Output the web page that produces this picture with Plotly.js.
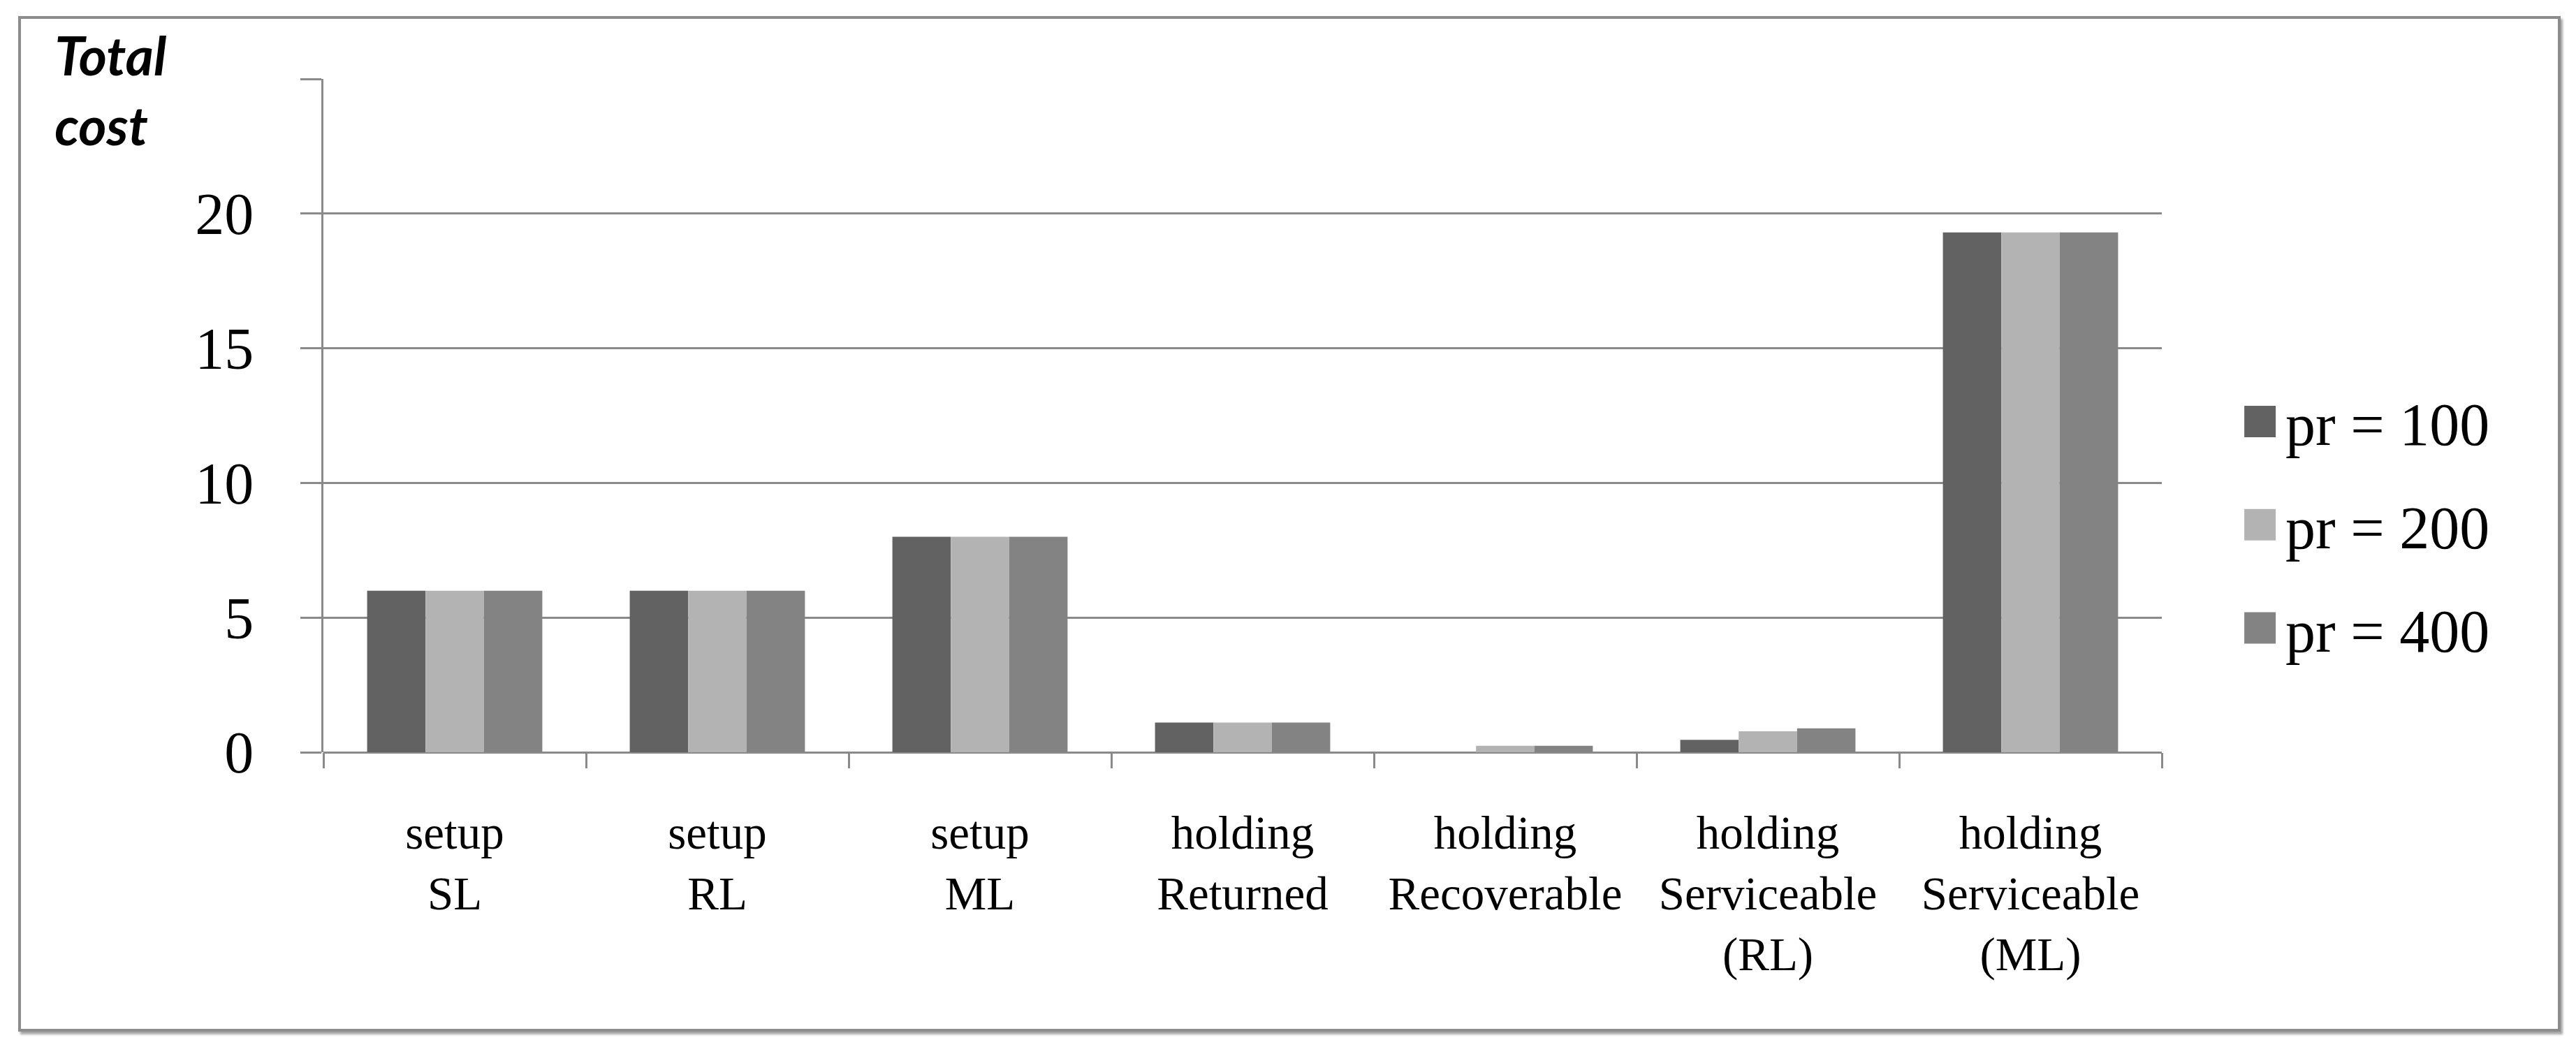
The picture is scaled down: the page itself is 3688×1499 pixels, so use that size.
<!DOCTYPE html>
<html>
<head>
<meta charset="utf-8">
<script src="https://cdn.plot.ly/plotly-3.0.1.min.js"></script>
<style>
  html, body { margin: 0; padding: 0; background: #ffffff; }
  #chart { width: 3688px; height: 1499px; position: absolute; left: 0; top: 0; }
  #frame { position: absolute; left: 26px; top: 23px; width: 3632px; height: 1446px;
           border: 4px solid #8c8c8c; box-shadow: 3px 4px 3px rgba(0,0,0,0.35); pointer-events: none; }
</style>
</head>
<body>
<div id="chart"></div>
<div id="frame"></div>
<script>
// ---- data ----
var categories = [
  "setup<br>SL",
  "setup<br>RL",
  "setup<br>ML",
  "holding<br>Returned",
  "holding<br>Recoverable",
  "holding<br>Serviceable<br>(RL)",
  "holding<br>Serviceable<br>(ML)"
];
var seriesNames = ["pr = 100", "pr = 200", "pr = 400"];
var pr100 = [6, 6, 8, 1.1, 0, 0.46, 19.3];
var pr200 = [6, 6, 8, 1.1, 0.24, 0.78, 19.3];
var pr400 = [6, 6, 8, 1.1, 0.24, 0.89, 19.3];
var yTickVals = [0, 5, 10, 15, 20, 25];
var yTickText = ["0", "5", "10", "15", "20", ""];
var seriesColors = ["#626262", "#b3b3b3", "#838383"];

var seriesValues = [pr100, pr200, pr400];
var traces = seriesValues.map(function (vals, i) {
  return {
    type: "bar",
    name: seriesNames[i],
    x: categories,
    y: vals,
    legendgroup: "g" + i,
    marker: { color: seriesColors[i], line: { width: 0 } },
    hoverinfo: "x+y+name"
  };
});

var gridColor = "#8a8a8a";
var layout = {
  width: 3688,
  height: 1499,
  paper_bgcolor: "#ffffff",
  plot_bgcolor: "#ffffff",
  margin: { l: 463, r: 593, t: 113, b: 422, pad: 0 },
  barmode: "group",
  bargap: 0.333,
  bargroupgap: 0,
  title: {
    text: "<b><i>Total<br>cost</i></b>",
    xref: "container", yref: "container",
    x: 0.0212, xanchor: "left",
    y: 0.928, yanchor: "middle",
    font: { family: "Lato, 'Open Sans', sans-serif", size: 77, color: "#000000" }
  },
  xaxis: {
    type: "category",
    tickson: "boundaries",
    ticks: "outside",
    ticklen: 22,
    tickwidth: 3,
    tickcolor: gridColor,
    showline: false,
    showgrid: false,
    zeroline: false,
    tickfont: { family: "'Liberation Serif', 'Times New Roman', serif", size: 67, color: "#000000" },
    ticklabelstandoff: 70,
    tickangle: 0
  },
  yaxis: {
    range: [0, 25],
    tickvals: yTickVals,
    ticktext: yTickText,
    ticks: "outside",
    ticklen: 30,
    tickwidth: 3,
    tickcolor: gridColor,
    showgrid: true,
    gridcolor: gridColor,
    gridwidth: 3,
    showline: true,
    linecolor: gridColor,
    linewidth: 3,
    zeroline: true,
    zerolinecolor: gridColor,
    zerolinewidth: 3,
    tickfont: { family: "'Liberation Serif', 'Times New Roman', serif", size: 84, color: "#000000" },
    ticklabelstandoff: 50
  },
  showlegend: true,
  legend: {
    x: 1.0407, xanchor: "left",
    y: 0.556, yanchor: "top",
    bgcolor: "rgba(0,0,0,0)",
    borderwidth: 0,
    itemwidth: 60,
    tracegroupgap: 33,
    font: { family: "'Liberation Serif', 'Times New Roman', serif", size: 86, color: "#000000" }
  }
};

function fixLegend() {
  var items = document.querySelectorAll("#chart .legend .traces");
  items.forEach(function (tr) {
    var txt = tr.querySelector("text.legendtext");
    var tx = txt ? (parseFloat(txt.getAttribute("x")) || 70) : 70;
    tr.querySelectorAll(".legendpoints path").forEach(function (p) {
      var m = /translate\(\s*([-\d.]+)/.exec(p.getAttribute("transform") || "");
      var cx = m ? parseFloat(m[1]) : 0;
      var r = tx - 14 - cx, l = r - 45;
      p.setAttribute("d", "M" + r + ",22.5H" + l + "V-22.5H" + r + "Z");
    });
  });
}

Plotly.newPlot("chart", traces, layout, { staticPlot: true, displayModeBar: false }).then(function (gd) {
  fixLegend();
  gd.on && gd.on("plotly_afterplot", fixLegend);
});
</script>
</body>
</html>
